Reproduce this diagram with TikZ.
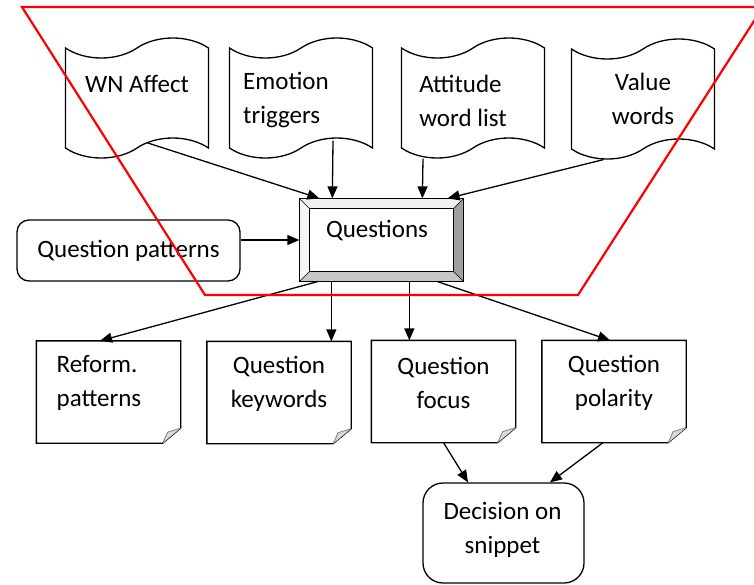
\documentclass[tikz,border=0pt]{standalone}
\usepackage{fontspec}
\setmainfont{Carlito}
\usetikzlibrary{shapes.symbols,arrows.meta}

\begin{document}
\begin{tikzpicture}[x=1pt,y=-1pt,line width=1.3pt,
    tapebox/.style={tape,draw,tape bend top=in and out,tape bend bottom=in and out,
      tape bend height=20pt,minimum width=143pt,minimum height=120pt,inner sep=0pt},
    notebox/.style={minimum width=143pt,minimum height=101pt,inner sep=0pt},
    roundbox/.style={draw,rounded corners=12pt,inner sep=0pt},
    txt/.style={font=\fontsize{25}{34}\selectfont,align=center,inner sep=0pt},
    arr/.style={-{Triangle[length=12pt,width=10pt]}}]
  \useasboundingbox (0,0) rectangle (754,584);
  % sources
  \node[tapebox] (wn) at (137,98) {};
  \node[tapebox] (emo) at (301,98) {};
  \node[tapebox] (att) at (473,98) {};
  \node[tapebox,txt] (val) at (643,99) {Value\\words};
  \node[txt] (wn-t) at (137,84) {WN Affect};
  \node[txt,align=left] (emo-t) at (286,100) {Emotion\\triggers};
  \node[txt,align=left] (att-t) at (463,101) {Attitude\\word list};
  % questions
  \node[minimum width=163pt,minimum height=82pt] (q) at (381.5,240) {};
  \coordinate (q1) at ([shift={(10pt,-10pt)}]q.north west);
  \coordinate (q2) at ([shift={(-10pt,-10pt)}]q.north east);
  \coordinate (q3) at ([shift={(-10pt,10pt)}]q.south east);
  \coordinate (q4) at ([shift={(10pt,10pt)}]q.south west);
  \fill[gray!12] (q.north west) -- (q.north east) -- (q2) -- (q1) -- cycle;
  \fill[gray!8] (q.north west) -- (q1) -- (q4) -- (q.south west) -- cycle;
  \fill[gray!75] (q.north east) -- (q.south east) -- (q3) -- (q2) -- cycle;
  \fill[gray!45] (q.south west) -- (q4) -- (q3) -- (q.south east) -- cycle;
  \draw (q.north west) rectangle (q.south east);
  \draw (q1) rectangle (q3);
  \draw[line width=0.6pt] (q.north west) -- (q1) (q.north east) -- (q2)
    (q.south east) -- (q3) (q.south west) -- (q4);
  \node[txt] (q-t) at (377,231) {Questions};
  \node[roundbox,txt,minimum width=223pt,minimum height=61pt] (qp) at (128.5,250.5) {Question patterns};
  % outputs
  \node[notebox] (rf) at (108.5,392) {};
  \node[notebox] (kw) at (279,392.5) {};
  \node[notebox] (fc) at (443.5,391.5) {};
  \node[notebox] (pl) at (614,391.5) {};
  \foreach \n in {rf,kw,fc,pl} {
    \draw (\n.north west) -- (\n.north east) -- ([yshift=15pt]\n.south east)
      -- ([xshift=-18pt]\n.south east) -- (\n.south west) -- cycle;
    \fill[gray!30] ([yshift=15pt]\n.south east) -- ([xshift=-18pt]\n.south east)
      -- ([shift={(-13pt,11pt)}]\n.south east) -- cycle;
    \draw[gray,line width=0.8pt] ([yshift=15pt]\n.south east) -- ([shift={(-13pt,11pt)}]\n.south east)
      -- ([xshift=-18pt]\n.south east);
  }
  \node[txt,align=left] (rf-t) at (99,383) {Reform.\\patterns};
  \node[txt] (kw-t) at (279,384) {Question\\keywords};
  \node[txt] (fc-t) at (443.5,382.5) {Question\\focus};
  \node[txt] (pl-t) at (614,382.5) {Question\\polarity};
  \node[roundbox,minimum width=161pt,minimum height=100pt,rounded corners=20pt] (ds) at (503.5,533) {};
  \node[txt] (ds-t) at (502.5,529.5) {Decision on\\snippet};
  % connectors
  \draw[arr] ([xshift=10pt,yshift=6pt]wn.south) -- ([xshift=20pt]q.north west);
  \draw[arr] ([xshift=32pt,yshift=8pt]emo.south) -- ([xshift=33pt]q.north west);
  \draw[arr] ([xshift=-50pt,yshift=-10pt]att.south) -- ([xshift=123pt]q.north west);
  \draw[arr] ([xshift=-40pt,yshift=-10pt]val.south) -- ([xshift=-16pt]q.north east);
  \draw[arr] (q.west -| qp.east) -- (q.west);
  \draw[arr] ([xshift=18pt]q.south west) -- ([xshift=-8.5pt]rf.north);
  \draw[arr] ([xshift=32pt]q.south west) -- ([xshift=32pt]q.south west |- kw.north);
  \draw[arr] ([xshift=110pt]q.south west) -- ([xshift=110pt]q.south west |- fc.north);
  \draw[arr] ([xshift=-26pt]q.south east) -- ([xshift=-4pt]pl.north);
  \draw[arr] (fc.south) -- ([xshift=-35.5pt]ds.north);
  \draw[arr] ([xshift=-11pt]pl.south) -- ([xshift=46.5pt]ds.north);
  % selection
  \draw[red,line width=2.2pt] (22,7) -- (763,7) -- (578,295) -- (205,295) -- cycle;
\end{tikzpicture}
\end{document}
